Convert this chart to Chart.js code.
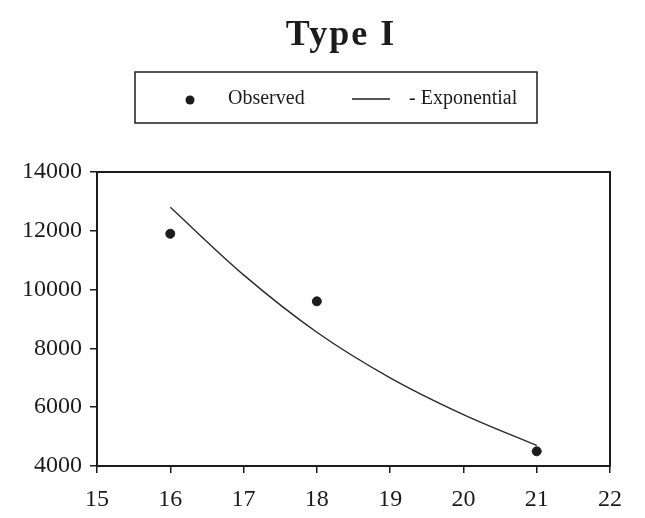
<!DOCTYPE html>
<html><head><meta charset="utf-8">
<script src="https://cdn.jsdelivr.net/npm/chart.js@4/dist/chart.umd.min.js"></script>
<style>html,body{margin:0;padding:0;background:#fff}</style>
</head><body>
<canvas id="c" width="645" height="518"></canvas>
<script>
const chartTitle = 'Type I';
const seriesNames = ['Observed', '- Exponential'];
const xTickValues = [15, 16, 17, 18, 19, 20, 21, 22];
const yTickValues = [4000, 6000, 8000, 10000, 12000, 14000];
const observedX = [16, 18, 21];
const observedY = [11900, 9600, 4500];
const expX = [16, 17, 18, 19, 20, 21];
const expY = [12800, 10500, 8550, 7000, 5750, 4700];

const INK = '#1c1c1c';
const SERIF = '"Liberation Serif", "DejaVu Serif", serif';

const boxPlugin = {
  id: 'plotBox',
  afterDatasetsDraw(chart) {
    const a = chart.chartArea, ctx = chart.ctx;
    ctx.save();
    ctx.strokeStyle = INK; ctx.lineWidth = 2;
    ctx.strokeRect(a.left, a.top, a.right - a.left, a.bottom - a.top);
    ctx.restore();
  }
};

const headerPlugin = {
  id: 'header',
  afterDraw(chart) {
    const ctx = chart.ctx;
    ctx.save();
    ctx.fillStyle = INK;
    ctx.font = 'bold 36px ' + SERIF;
    ctx.letterSpacing = '2px';
    ctx.textAlign = 'center';
    ctx.textBaseline = 'middle';
    ctx.fillText(chartTitle, 341, 36);
    ctx.letterSpacing = '0px';
    ctx.strokeStyle = INK; ctx.lineWidth = 1.5;
    ctx.strokeRect(135, 72, 402, 51);
    ctx.beginPath(); ctx.arc(190, 100, 4.5, 0, Math.PI * 2); ctx.fill();
    ctx.font = '20px ' + SERIF;
    ctx.textAlign = 'left';
    ctx.fillText(seriesNames[0], 228, 99);
    ctx.lineWidth = 1.3;
    ctx.beginPath(); ctx.moveTo(352, 99); ctx.lineTo(390, 99); ctx.stroke();
    ctx.fillText(seriesNames[1], 409, 99);
    ctx.restore();
  }
};

new Chart(document.getElementById('c'), {
  type: 'scatter',
  data: {
    datasets: [
      {
        label: seriesNames[0],
        data: observedX.map((x, i) => ({ x, y: observedY[i] })),
        pointRadius: 4.5,
        pointHoverRadius: 4.5,
        backgroundColor: INK,
        borderColor: INK,
        showLine: false
      },
      {
        label: seriesNames[1],
        data: expX.map((x, i) => ({ x, y: expY[i] })),
        showLine: true,
        pointRadius: 0,
        borderColor: '#2a2a2a',
        borderWidth: 1.4,
        cubicInterpolationMode: 'monotone',
        fill: false
      }
    ]
  },
  options: {
    responsive: false,
    animation: false,
    devicePixelRatio: 1,
    layout: { padding: { left: 0, right: 35, top: 172, bottom: 4 } },
    plugins: {
      legend: { display: false },
      tooltip: { enabled: false },
      title: { display: false }
    },
    scales: {
      x: {
        type: 'linear',
        min: xTickValues[0],
        max: xTickValues[xTickValues.length - 1],
        afterBuildTicks: s => { s.ticks = xTickValues.map(v => ({ value: v })); },
        afterFit: s => { s.height = 48; },
        ticks: { color: INK, font: { family: SERIF, size: 24 }, padding: 12 },
        grid: { drawOnChartArea: false, drawTicks: true, tickLength: 7, color: INK, lineWidth: 1.5 },
        border: { color: INK, width: 2 }
      },
      y: {
        min: yTickValues[0],
        max: yTickValues[yTickValues.length - 1],
        afterBuildTicks: s => { s.ticks = yTickValues.map(v => ({ value: v })); },
        afterFit: s => { s.width = 97; },
        ticks: { color: INK, font: { family: SERIF, size: 24 }, padding: 8, callback: v => String(v) },
        grid: { drawOnChartArea: false, drawTicks: true, tickLength: 7, color: INK, lineWidth: 1.5 },
        border: { color: INK, width: 2 }
      }
    }
  },
  plugins: [boxPlugin, headerPlugin]
});
</script>
</body></html>
